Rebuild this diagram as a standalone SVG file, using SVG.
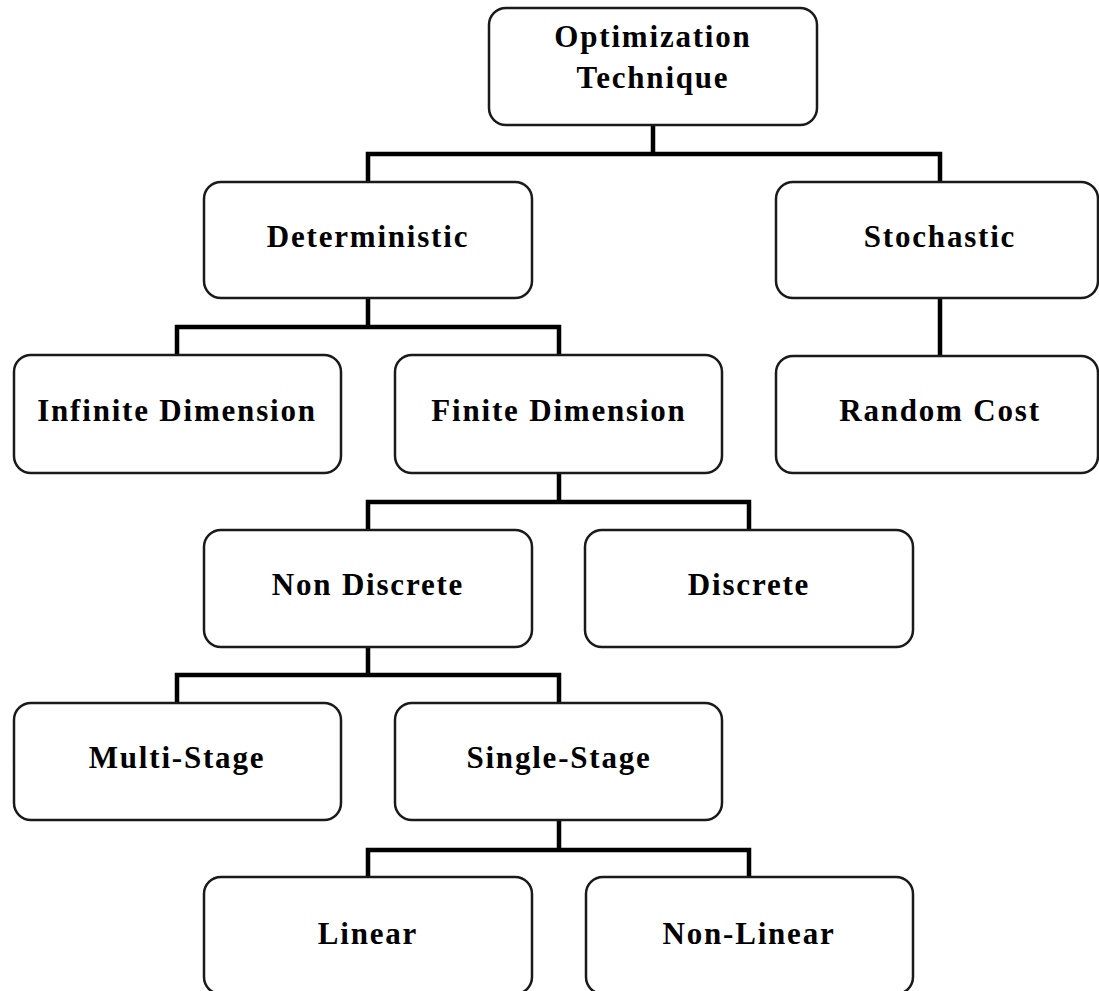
<svg xmlns="http://www.w3.org/2000/svg" width="1099" height="991" viewBox="0 0 1099 991">
<style>
.box{fill:#fff;stroke:#1a1a1a;stroke-width:2.5}
.lbl{font-family:"Liberation Serif","Times New Roman",serif;font-weight:bold;font-size:31px;letter-spacing:1.8px;text-anchor:middle;fill:#000}
.conn{fill:none;stroke:#000;stroke-width:4.5;stroke-linejoin:miter}
</style>
<rect width="1099" height="991" fill="#fff"/>
<g id="connectors">
<path class="conn" d="M653 125V154M368 182V154H940V182"/>
<path class="conn" d="M368 298V327M177 355V327H559V355"/>
<path class="conn" d="M940 298V356"/>
<path class="conn" d="M559 473V502M368 530V502H749V530"/>
<path class="conn" d="M368 647V675M177 703V675H559V703"/>
<path class="conn" d="M559 820V850M368 877V850H749V877"/>
</g>
<g id="n-optimization"><rect class="box" x="489" y="8" width="328" height="117" rx="17"/><text class="lbl" x="653" y="47">Optimization</text><text class="lbl" x="653" y="88">Technique</text></g>
<g id="n-deterministic"><rect class="box" x="204" y="182" width="328" height="116" rx="17"/><text class="lbl" x="368" y="247">Deterministic</text></g>
<g id="n-stochastic"><rect class="box" x="776" y="182" width="322" height="116" rx="17"/><text class="lbl" x="940" y="247">Stochastic</text></g>
<g id="n-infinite"><rect class="box" x="14" y="355" width="327" height="118" rx="17"/><text class="lbl" x="177" y="421">Infinite Dimension</text></g>
<g id="n-finite"><rect class="box" x="395" y="355" width="327" height="118" rx="17"/><text class="lbl" x="559" y="421">Finite Dimension</text></g>
<g id="n-random"><rect class="box" x="776" y="356" width="322" height="117" rx="17"/><text class="lbl" x="940" y="421">Random Cost</text></g>
<g id="n-nondiscrete"><rect class="box" x="204" y="530" width="328" height="117" rx="17"/><text class="lbl" x="368" y="595">Non Discrete</text></g>
<g id="n-discrete"><rect class="box" x="585" y="530" width="328" height="117" rx="17"/><text class="lbl" x="749" y="595">Discrete</text></g>
<g id="n-multistage"><rect class="box" x="14" y="703" width="327" height="117" rx="17"/><text class="lbl" x="177" y="768">Multi-Stage</text></g>
<g id="n-singlestage"><rect class="box" x="395" y="703" width="327" height="117" rx="17"/><text class="lbl" x="559" y="768">Single-Stage</text></g>
<g id="n-linear"><rect class="box" x="204" y="877" width="328" height="117" rx="17"/><text class="lbl" x="368" y="944">Linear</text></g>
<g id="n-nonlinear"><rect class="box" x="586" y="877" width="327" height="117" rx="17"/><text class="lbl" x="749" y="944">Non-Linear</text></g>
</svg>
